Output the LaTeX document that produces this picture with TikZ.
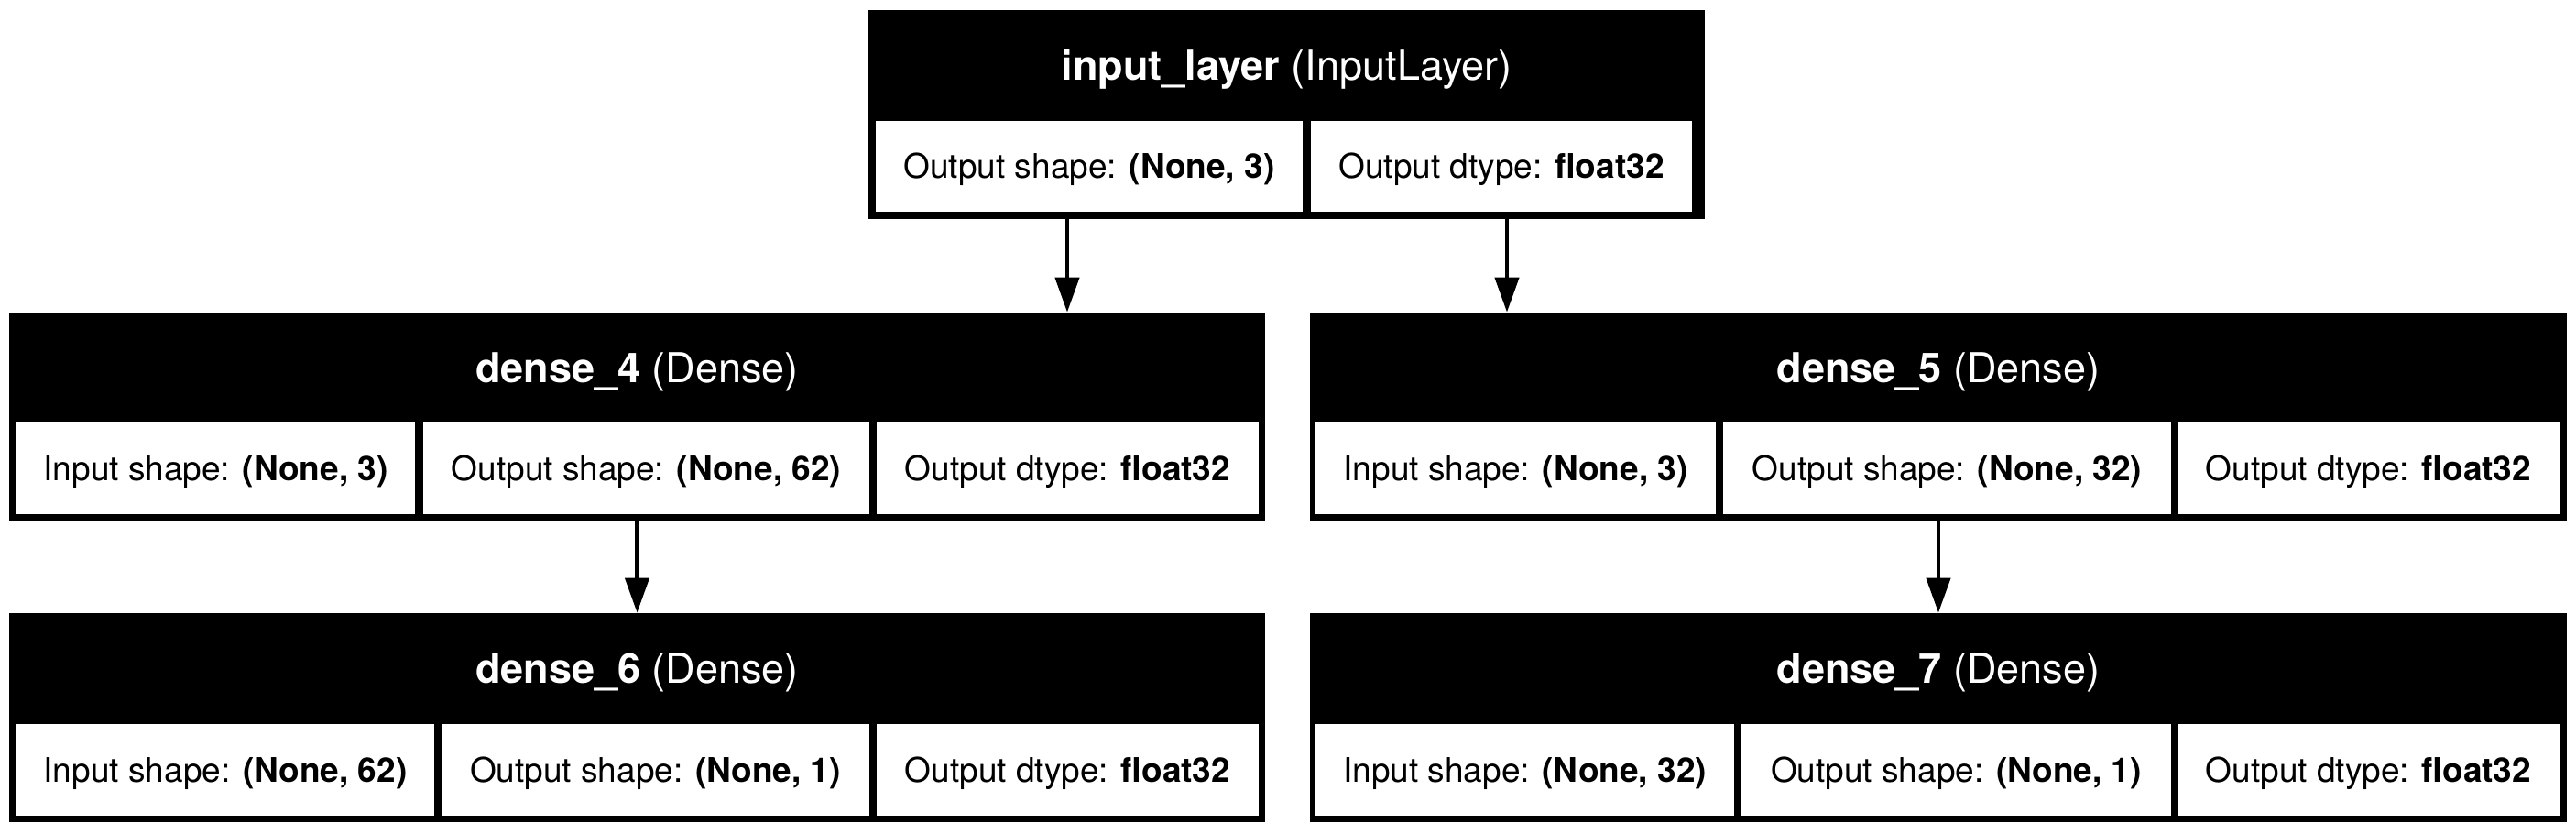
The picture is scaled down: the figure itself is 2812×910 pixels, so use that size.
\documentclass[tikz,border=0pt]{standalone}
\usepackage{fontspec}
\setmainfont{TeX Gyre Heros}
\usetikzlibrary{fit,arrows.meta}
\tikzset{
  box/.style={fill=black, draw=none, inner sep=0pt},
  cell/.style={fill=white, draw=none, inner sep=0pt},
  hdrtxt/.style={inner sep=0pt, anchor=center, text=white, font=\fontsize{22.5pt}{27pt}\selectfont, text height=16.15pt, text depth=0pt},
  celltxt/.style={inner sep=0pt, anchor=center, text=black, font=\fontsize{18.5pt}{22pt}\selectfont, text height=13.3pt, text depth=0pt},
  arr/.style={line width=2.2pt, draw=black, -{Triangle[length=19pt,width=13pt]}}
}
\begin{document}
\begin{tikzpicture}[x=0.5pt,y=-0.5pt]
\useasboundingbox[fill=white] (0,0) rectangle (2812,910);

% input_layer
\node[box, fit={(948,11) (1861,239)}] (inp) {};
\node[box, fit={(948,11) (1861,132)}] (inph) {};
\node[cell, fit={(956,132) (1422,231)}] (inp1) {};
\node[cell, fit={(1431,132) (1847,231)}] (inp2) {};
\node[hdrtxt] (inpht) at (inph.center) {\textbf{input\_layer} (InputLayer)};
\node[celltxt] (inp1t) at (inp1.center) {Output shape: \textbf{(None, 3)}};
\node[celltxt] (inp2t) at (inp2.center) {Output dtype: \textbf{float32}};

% dense_4
\node[box, fit={(10,341) (1381,569)}] (d4) {};
\node[box, fit={(10,341) (1381,461)}] (d4h) {};
\node[cell, fit={(18,461) (453,561)}] (d41) {};
\node[cell, fit={(462,461) (949,561)}] (d42) {};
\node[cell, fit={(957,461) (1374,561)}] (d43) {};
\node[hdrtxt] (d4ht) at (d4h.center) {\textbf{dense\_4} (Dense)};
\node[celltxt] (d41t) at (d41.center) {Input shape: \textbf{(None, 3)}};
\node[celltxt] (d42t) at (d42.center) {Output shape: \textbf{(None, 62)}};
\node[celltxt] (d43t) at (d43.center) {Output dtype: \textbf{float32}};

% dense_5
\node[box, fit={(1430,341) (2802,569)}] (d5) {};
\node[box, fit={(1430,341) (2802,461)}] (d5h) {};
\node[cell, fit={(1436,461) (1873,561)}] (d51) {};
\node[cell, fit={(1881,461) (2370,561)}] (d52) {};
\node[cell, fit={(2377,461) (2794,561)}] (d53) {};
\node[hdrtxt] (d5ht) at (d5h.center) {\textbf{dense\_5} (Dense)};
\node[celltxt] (d51t) at (d51.center) {Input shape: \textbf{(None, 3)}};
\node[celltxt] (d52t) at (d52.center) {Output shape: \textbf{(None, 32)}};
\node[celltxt] (d53t) at (d53.center) {Output dtype: \textbf{float32}};

% dense_6
\node[box, fit={(10,669) (1381,897)}] (d6) {};
\node[box, fit={(10,669) (1381,790)}] (d6h) {};
\node[cell, fit={(18,790) (474,890)}] (d61) {};
\node[cell, fit={(482,790) (949,890)}] (d62) {};
\node[cell, fit={(957,790) (1374,890)}] (d63) {};
\node[hdrtxt] (d6ht) at (d6h.center) {\textbf{dense\_6} (Dense)};
\node[celltxt] (d61t) at (d61.center) {Input shape: \textbf{(None, 62)}};
\node[celltxt] (d62t) at (d62.center) {Output shape: \textbf{(None, 1)}};
\node[celltxt] (d63t) at (d63.center) {Output dtype: \textbf{float32}};

% dense_7
\node[box, fit={(1430,669) (2802,897)}] (d7) {};
\node[box, fit={(1430,669) (2802,790)}] (d7h) {};
\node[cell, fit={(1436,790) (1893,890)}] (d71) {};
\node[cell, fit={(1901,790) (2370,890)}] (d72) {};
\node[cell, fit={(2377,790) (2794,890)}] (d73) {};
\node[hdrtxt] (d7ht) at (d7h.center) {\textbf{dense\_7} (Dense)};
\node[celltxt] (d71t) at (d71.center) {Input shape: \textbf{(None, 32)}};
\node[celltxt] (d72t) at (d72.center) {Output shape: \textbf{(None, 1)}};
\node[celltxt] (d73t) at (d73.center) {Output dtype: \textbf{float32}};

% connectors
\coordinate (a1) at (1165,0);
\coordinate (a2) at (1645,0);
\draw[arr] (inp.south -| a1) -- (d4.north -| a1);
\draw[arr] (inp.south -| a2) -- (d5.north -| a2);
\draw[arr] (d4.south) -- (d6.north);
\draw[arr] (d5.south) -- (d7.north);
\end{tikzpicture}
\end{document}
